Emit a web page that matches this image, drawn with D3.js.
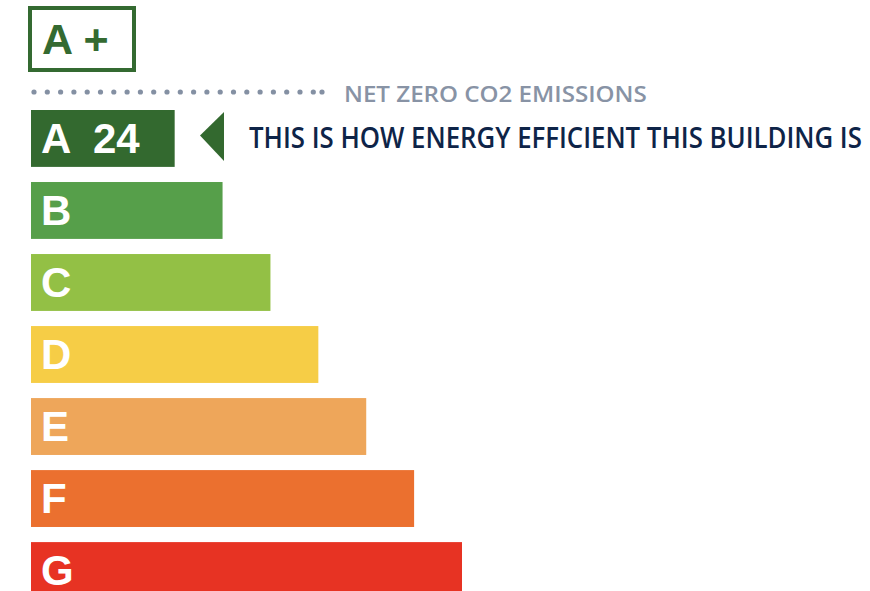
<!DOCTYPE html>
<html>
<head>
<meta charset="utf-8">
<script src="https://cdn.jsdelivr.net/npm/d3@7"></script>
<style>
    body, html {
        margin: 0;
        padding: 0;
        background: #fff;
    }
    .grade { font-family: "Liberation Sans", Arial, sans-serif; font-weight: bold; }
    .note { font-family: "Open Sans", sans-serif; font-weight: 600; }
</style>
</head>
<body>
<div id="chart"></div>
<script>
// rating bands, top to bottom
var grades = ["A", "B", "C", "D", "E", "F", "G"];
var bandLength = [3, 4, 5, 6, 7, 8, 9];
var bandColors = ["#33692f", "#569f4a", "#93c045", "#f6cd46", "#eea65a", "#eb702f", "#e73323"];

var topGrade = "A +";
var buildingGrade = "A";
var buildingScore = "24";
var netZeroLabel = "NET ZERO CO2 EMISSIONS";
var pointerLabel = "THIS IS HOW ENERGY EFFICIENT THIS BUILDING IS";

var w = 870, h = 591;

var svg = d3.select("#chart")
    .append("svg")
    .attr("width", w)
    .attr("height", h);

var x = d3.scaleLinear()
    .domain([0, 9])
    .range([31, 462]);

var y = d3.scaleBand()
    .domain(grades)
    .range([110, 599])
    .paddingInner(0.21)
    .paddingOuter(0);

// squeeze a text horizontally so it spans the given width
function fitText(sel, x0, y0, width) {
    var len = sel.node().getComputedTextLength();
    sel.attr("transform", "translate(" + x0 + "," + y0 + ") scale(" + (width / len) + ",1)");
}

// A+ box
svg.append("rect")
    .attr("x", 30)
    .attr("y", 8)
    .attr("width", 104)
    .attr("height", 62)
    .attr("fill", "none")
    .attr("stroke", "#346a31")
    .attr("stroke-width", 4);

svg.append("text")
    .attr("class", "grade")
    .attr("x", 42)
    .attr("y", 54)
    .attr("font-size", 43)
    .attr("fill", "#346a31")
    .text(topGrade);

// dotted net zero line
var dotsX = d3.range(34, 318, 13.3).concat([322]);
svg.append("g")
    .selectAll("circle")
    .data(dotsX)
    .enter()
    .append("circle")
    .attr("cx", function (d) { return d; })
    .attr("cy", 92)
    .attr("r", 2.6)
    .attr("fill", "#8490a3");

var netZero = svg.append("text")
    .attr("class", "note")
    .attr("font-size", 22)
    .attr("fill", "#8893a5")
    .text(netZeroLabel);
fitText(netZero, 344, 102, 303);

// bars
svg.append("g")
    .selectAll("rect")
    .data(grades)
    .enter()
    .append("rect")
    .attr("x", x(0))
    .attr("y", function (d) { return y(d); })
    .attr("width", function (d, i) { return x(bandLength[i]) - x(0); })
    .attr("height", y.bandwidth())
    .attr("fill", function (d, i) { return bandColors[i]; });

// letters
var labels = svg.append("g")
    .selectAll("text")
    .data(grades)
    .enter()
    .append("text")
    .attr("class", "grade")
    .attr("x", 41)
    .attr("y", function (d) { return y(d) + 43; })
    .attr("font-size", 42)
    .attr("fill", "#fff")
    .text(function (d) { return d; });

labels.filter(function (d) { return d == buildingGrade; })
    .append("tspan")
    .attr("x", 93)
    .text(buildingScore);

// pointer
var py = y(buildingGrade);
var ph = y.bandwidth();
svg.append("path")
    .attr("d", "M200," + (py + ph / 2 - 3) + " L224," + (py + 2) + " L224," + (py + ph - 6) + " Z")
    .attr("fill", "#33692f");

var pointer = svg.append("text")
    .attr("class", "note")
    .attr("font-size", 28)
    .attr("fill", "#0e2448")
    .text(pointerLabel);
fitText(pointer, 249, 148, 613);
</script>
</body>
</html>
